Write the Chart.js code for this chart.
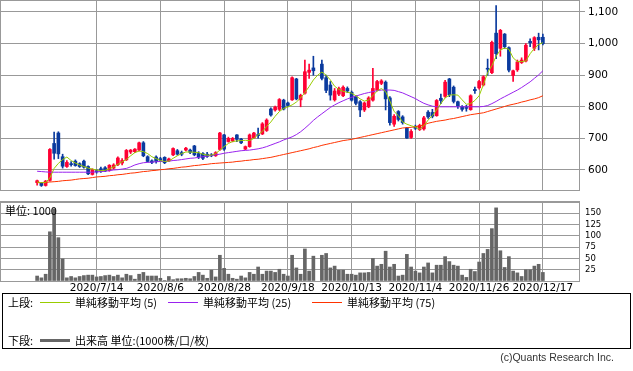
<!DOCTYPE html>
<html>
<head>
<meta charset="utf-8">
<script src="https://cdn.jsdelivr.net/npm/chart.js@4/dist/chart.umd.min.js"></script>
<style>
  body { margin: 0; width: 633px; height: 371px; background: #fff; position: relative; overflow: hidden; }
  canvas { position: absolute; left: 0; }
  #price { top: 0; }
  #volume { top: 195px; }
  .txt { position: absolute; font-family: "Noto Sans CJK JP", "DejaVu Sans", sans-serif; font-size: 11px; color: #000; white-space: nowrap; line-height: 12px; }
  .ln { position: absolute; height: 1px; }
  #legend { position: absolute; left: 2px; top: 293px; width: 629px; height: 56px; border: 1px solid #000; box-sizing: border-box; }
  #copy { position: absolute; right: 19px; top: 351px; font-family: "Liberation Sans", sans-serif; font-size: 10.5px; color: #333; }
</style>
</head>
<body>
<canvas id="price" width="633" height="191"></canvas>
<canvas id="volume" width="633" height="100"></canvas>
<div class="txt" style="left:5px;top:204px;">単位: 1000</div>
<div id="legend"></div>
<div class="txt" style="left:8px;top:296px;">上段:</div>
<div class="ln" style="left:40px;width:30px;top:302px;background:#99cc00;"></div>
<div class="txt" style="left:75px;top:296px;">単純移動平均 (5)</div>
<div class="ln" style="left:168px;width:30px;top:302px;background:#9922ee;"></div>
<div class="txt" style="left:203px;top:296px;">単純移動平均 (25)</div>
<div class="ln" style="left:312px;width:30px;top:302px;background:#ff3300;"></div>
<div class="txt" style="left:347px;top:296px;">単純移動平均 (75)</div>
<div class="txt" style="left:8px;top:334px;">下段:</div>
<div class="ln" style="left:40px;width:30px;top:339px;height:3px;background:#666;"></div>
<div class="txt" style="left:75px;top:334px;">出来高 単位:(1000株/口/枚)</div>
<div id="copy">(c)Quants Research Inc.</div>
<script>
// trading days shown (10/1 = TSE halt, no candle)
const dates = [
  '2020/6/24','2020/6/25','2020/6/26','2020/6/29','2020/6/30',
  '2020/7/1','2020/7/2','2020/7/3','2020/7/6','2020/7/7','2020/7/8','2020/7/9','2020/7/10','2020/7/13','2020/7/14',
  '2020/7/15','2020/7/16','2020/7/17','2020/7/20','2020/7/21','2020/7/22','2020/7/27','2020/7/28','2020/7/29','2020/7/30','2020/7/31',
  '2020/8/3','2020/8/4','2020/8/5','2020/8/6','2020/8/7','2020/8/11','2020/8/12','2020/8/13','2020/8/14','2020/8/17',
  '2020/8/18','2020/8/19','2020/8/20','2020/8/21','2020/8/24','2020/8/25','2020/8/26','2020/8/27','2020/8/28','2020/8/31',
  '2020/9/1','2020/9/2','2020/9/3','2020/9/4','2020/9/7','2020/9/8','2020/9/9','2020/9/10','2020/9/11','2020/9/14',
  '2020/9/15','2020/9/16','2020/9/17','2020/9/18','2020/9/23','2020/9/24','2020/9/25','2020/9/28','2020/9/29','2020/9/30',
  '2020/10/1','2020/10/2','2020/10/5','2020/10/6','2020/10/7','2020/10/8','2020/10/9','2020/10/12','2020/10/13','2020/10/14',
  '2020/10/15','2020/10/16','2020/10/19','2020/10/20','2020/10/21','2020/10/22','2020/10/23','2020/10/26','2020/10/27','2020/10/28',
  '2020/10/29','2020/10/30','2020/11/2','2020/11/4','2020/11/5','2020/11/6','2020/11/9','2020/11/10','2020/11/11','2020/11/12',
  '2020/11/13','2020/11/16','2020/11/17','2020/11/18','2020/11/19','2020/11/20','2020/11/24','2020/11/25','2020/11/26','2020/11/27',
  '2020/11/30','2020/12/1','2020/12/2','2020/12/3','2020/12/4','2020/12/7','2020/12/8','2020/12/9','2020/12/10','2020/12/11',
  '2020/12/14','2020/12/15','2020/12/16','2020/12/17'
];
const tickDates = ['2020/7/14','2020/8/6','2020/8/28','2020/9/18','2020/10/13','2020/11/4','2020/11/26','2020/12/17'];
const priceTicks = [600, 700, 800, 900, 1000, 1100];
const volumeTicks = [0, 25, 50, 75, 100, 125, 150, 175];

const open = [
  560,559,551,567,684,717,642,611,620,628, 620,628,611,586,598,604,607,598,606,617,
  622,632,657,658,663,686,642,629,641,636, 640,629,648,661,655,663,663,676,652,652,
  650,648,645,665,711,690,692,711,698,666, 674,702,712,714,725,793,790,792,821,812,
  822,888,822,843,909,923,null,935,892,869, 822,840,835,858,846,832,816,790,800,821,
  853,874,878,828,745,785,768,733,703,738, 728,730,783,782,772,827,833,888,862,816,
  800,798,791,855,860,869,922,908,1033,985, 1030,987,899,917,940,945,1007,985,1020,1020
];
const high = [
  568,561,567,668,720,721,650,630,627,632, 623,631,613,604,601,609,611,617,620,642,
  636,665,665,668,688,690,645,632,645,640, 642,638,670,665,660,672,666,678,658,655,
  656,652,658,719,713,704,703,712,700,676, 714,719,733,750,762,797,802,826,824,815,
  895,890,840,948,935,960,null,948,900,880, 858,862,866,863,850,836,820,815,832,922,
  884,886,882,832,775,788,772,735,728,742, 745,770,788,792,823,840,884,890,866,818,
  804,805,838,862,884,898,951,1008,1120,1045, 1032,990,916,948,955,1000,1015,1022,1033,1030
];
const low = [
  552,548,549,565,634,636,606,608,612,612, 608,606,585,584,590,592,595,596,603,614,
  616,630,652,655,660,642,625,620,622,628, 620,626,645,647,645,660,652,645,636,633,
  640,642,643,662,662,688,689,690,683,664, 672,700,701,712,722,770,786,788,790,800,
  820,822,800,840,890,900,null,885,845,821, 818,835,832,845,818,806,769,785,797,818,
  850,870,790,742,738,755,745,700,700,728, 725,726,763,765,770,810,830,832,812,795,
  786,786,789,842,856,866,900,905,952,960, 985,910,880,912,937,942,990,978,980,996
];
const close = [
  566,551,565,665,653,651,612,624,617,614, 611,609,588,601,594,596,597,615,616,638,
  630,662,663,666,686,645,627,624,627,631, 623,635,668,650,650,669,656,648,641,637,
  643,645,655,717,666,700,700,697,686,674, 711,717,709,746,758,774,799,823,793,804,
  892,825,836,911,916,914,null,890,852,837, 850,858,862,850,821,811,790,812,828,858,
  880,882,825,750,770,760,750,701,722,732, 741,765,768,770,820,820,878,838,817,803,
  792,795,835,851,880,895,919,1004,968,1042, 990,916,914,942,948,995,1003,1019,1012,1000
];
const volume = [
  11,7,15,109,160,96,49,7,10,7, 10,12,13,13,9,10,12,13,10,13,
  7,15,12,4,15,19,11,11,11,6, 1,10,3,5,5,6,5,10,19,13,
  6,24,9,57,28,15,6,4,11,7, 19,15,31,15,22,22,19,26,15,11,
  57,29,15,71,22,55,null,57,61,29, 33,24,24,15,15,13,18,18,19,50,
  33,37,66,31,37,11,13,59,31,22, 18,31,40,18,35,35,54,43,35,33,
  13,8,26,21,42,61,70,116,162,67, 30,54,22,18,10,25,25,33,37,19
];
const ma5 = [
  562,560,560,575,605,621,633,641,630,622, 616,611,606,603,600,598,599,604,610,618,
  626,633,645,655,660,658,652,642,636,630, 627,628,637,645,652,657,657,656,655,650,
  647,647,652,663,674,684,690,692,693,694, 693,700,712,722,738,752,770,785,795,800,
  806,815,828,845,864,885,900,910,900,885, 865,855,849,846,843,835,825,818,822,835,
  850,858,848,818,785,772,752,745,740,736, 729,740,758,772,790,810,828,837,838,837,
  822,808,810,820,835,870,908,930,960,980, 986,982,955,943,943,945,968,985,997,1003
];
const ma25 = [
  596,595,594,593,593,593,593,593,593,593, 593,593,593,593,594,595,596,598,600,601,
  603,605,610,616,620,623,624,625,626,627, 627,628,630,631,633,635,637,638,640,642,
  644,646,648,650,653,655,657,659,661,662, 663,665,667,670,674,679,684,689,695,700,
  705,712,721,732,744,757,768,778,788,798, 806,813,819,825,830,834,838,842,845,848,
  851,853,853,853,852,848,844,838,832,826, 818,811,806,802,800,800,800,800,800,800,
  800,800,800,800,800,801,804,810,817,825, 832,839,846,853,861,870,879,890,901,914
];
const ma75 = [
  560,560,561,562,563,564,566,567,568,570, 572,573,574,576,578,579,580,582,583,585,
  586,588,590,591,593,595,596,598,599,601, 602,604,605,607,609,610,612,614,615,617,
  618,620,621,622,623,624,625,627,628,630, 631,633,634,636,638,640,643,646,649,652,
  655,658,661,664,667,671,674,678,681,684, 687,690,693,695,697,700,703,706,709,712,
  715,718,721,724,727,730,733,734,735,737, 740,743,748,751,754,756,758,761,763,766,
  769,772,775,777,779,781,785,789,793,797, 801,805,808,811,815,818,822,825,829,835
];

const LEAD = 8, TRAIL = 8;
const RED = '#ff0033', BLUE = '#0a3a9e', GRID = '#999999';

const pad = arr => [...Array(LEAD).fill(null), ...arr, ...Array(TRAIL).fill(null)];
const labels = pad(dates).map(d => d || '');
const showTick = i => tickDates.includes(labels[i]);

const bodies = pad(open.map((o, i) => o == null ? null : [Math.min(o, close[i]), Math.max(o, close[i])]));
const wicks = pad(low.map((l, i) => l == null ? null : [l, high[i]]));
const colors = pad(open.map((o, i) => close[i] >= o ? RED : BLUE));

Chart.defaults.font.family = 'DejaVu Sans';
Chart.defaults.color = '#000';

const frame = {
    id: 'frame',
    afterDraw(chart) {
        const {ctx, chartArea: a} = chart;
        ctx.save();
        ctx.strokeStyle = GRID;
        ctx.lineWidth = 1;
        ctx.strokeRect(a.left - 0.5, a.top - 0.5, a.right - a.left + 1, a.bottom - a.top + 1);
        ctx.restore();
    }
};

// no label overhang padding: the plot area is placed by layout padding alone
const noOverhang = w => s => {
    s.paddingTop = 0; s.paddingBottom = 0; s.paddingLeft = 0; s.paddingRight = 0;
    if (w != null) s.width = w;
};

const xGrid = {
    offset: false,
    color: c => showTick(c.index) ? GRID : 'rgba(0,0,0,0)',
    drawTicks: false
};

const line = (data, color) => ({
    type: 'line', data: pad(data), borderColor: color, borderWidth: 1,
    pointRadius: 0, tension: 0, spanGaps: true
});

new Chart(document.getElementById('price'), {
    type: 'bar',
    data: {
        labels,
        datasets: [
            line(ma5, '#99cc00'),
            line(ma25, '#9922ee'),
            line(ma75, '#ff3300'),
            {data: bodies, backgroundColor: colors, barThickness: 3, grouped: false},
            {data: wicks, backgroundColor: colors, barThickness: 1, grouped: false}
        ]
    },
    options: {
        responsive: false, animation: false, devicePixelRatio: 1,
        layout: {padding: {left: 1, top: 1, right: 0, bottom: 1}},
        plugins: {legend: {display: false}, tooltip: {enabled: false}},
        scales: {
            x: {
                grid: xGrid, border: {display: false},
                ticks: {display: false, autoSkip: false, maxRotation: 0},
                afterFit: s => { noOverhang()(s); s.height = 0; }
            },
            y: {
                position: 'right', min: 536.7, max: 1134.8,
                border: {display: false},
                grid: {color: GRID, tickLength: 6},
                afterBuildTicks: s => { s.ticks = priceTicks.map(value => ({value})); },
                ticks: {
                    autoSkip: false, padding: 3,
                    font: {size: 10.5},
                    callback: v => v.toLocaleString('en-US')
                },
                afterFit: noOverhang(54)
            }
        }
    },
    plugins: [frame]
});

new Chart(document.getElementById('volume'), {
    type: 'bar',
    data: {
        labels,
        datasets: [{data: pad(volume), backgroundColor: '#666666', barThickness: 3}]
    },
    options: {
        responsive: false, animation: false, devicePixelRatio: 1,
        layout: {padding: {left: 1, top: 7, right: 0, bottom: 0}},
        plugins: {legend: {display: false}, tooltip: {enabled: false}},
        scales: {
            x: {
                grid: xGrid, border: {display: false},
                ticks: {
                    autoSkip: false, maxRotation: 0, minRotation: 0, padding: 1,
                    font: {size: 10.5},
                    callback: (v, i) => showTick(i) ? labels[i] : ''
                },
                afterFit: s => { noOverhang()(s); s.height = 14; }
            },
            y: {
                position: 'right', min: 0, max: 175,
                border: {display: false},
                grid: {color: GRID, drawTicks: false},
                afterBuildTicks: s => { s.ticks = volumeTicks.map(value => ({value})); },
                ticks: {
                    autoSkip: false, padding: 6, font: {size: 8.5},
                    callback: v => (v === 0 || v === 175) ? '' : v
                },
                afterFit: noOverhang(54)
            }
        }
    },
    plugins: [frame]
});
</script>
</body>
</html>
